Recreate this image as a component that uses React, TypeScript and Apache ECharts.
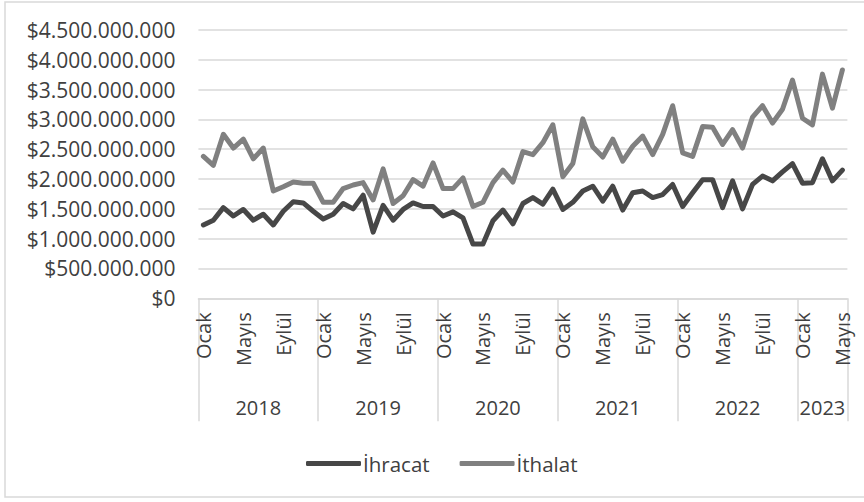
import React, { useEffect, useRef } from "react";
import * as echarts from "echarts";

// Month names shown on the axis (Ocak, Mayıs, Eylül every 4th month)
const monthNames = [
  "Ocak", "Şubat", "Mart", "Nisan", "Mayıs", "Haziran",
  "Temmuz", "Ağustos", "Eylül", "Ekim", "Kasım", "Aralık",
];
const years = ["2018", "2019", "2020", "2021", "2022", "2023"];
const monthsPerYear = [12, 12, 12, 12, 12, 5];

// Monthly exports (USD)
const ihracat = [
  1.23, 1.31, 1.52, 1.38, 1.49, 1.31, 1.41, 1.23, 1.46, 1.62, 1.60, 1.46,
  1.33, 1.41, 1.59, 1.50, 1.73, 1.11, 1.56, 1.31, 1.49, 1.60, 1.54, 1.54,
  1.38, 1.45, 1.35, 0.91, 0.91, 1.30, 1.48, 1.25, 1.59, 1.69, 1.58, 1.83,
  1.49, 1.61, 1.80, 1.88, 1.63, 1.88, 1.48, 1.77, 1.80, 1.69, 1.74, 1.91,
  1.54, 1.77, 1.99, 1.99, 1.52, 1.97, 1.50, 1.91, 2.05, 1.97, 2.12, 2.26,
  1.93, 1.94, 2.34, 1.97, 2.15,
].map((v) => Math.round(v * 1e9));

// Monthly imports (USD)
const ithalat = [
  2.38, 2.23, 2.75, 2.52, 2.67, 2.34, 2.52, 1.80, 1.87, 1.95, 1.93, 1.93,
  1.61, 1.61, 1.84, 1.90, 1.94, 1.65, 2.17, 1.59, 1.72, 1.99, 1.88, 2.27,
  1.84, 1.84, 2.02, 1.54, 1.61, 1.94, 2.15, 1.95, 2.46, 2.41, 2.61, 2.91,
  2.04, 2.26, 3.01, 2.54, 2.37, 2.67, 2.30, 2.55, 2.72, 2.41, 2.75, 3.23,
  2.44, 2.38, 2.88, 2.87, 2.58, 2.83, 2.52, 3.04, 3.23, 2.94, 3.17, 3.66,
  3.02, 2.91, 3.76, 3.19, 3.83,
].map((v) => Math.round(v * 1e9));

const FONT = "Open Sans";
const TEXT = "#404040";
const GRID = "#d9d9d9";

function formatMoney(v: number): string {
  return "$" + Math.round(v).toString().replace(/\B(?=(\d{3})+(?!\d))/g, ".");
}

export default function App() {
  const ref = useRef<HTMLDivElement>(null);

  useEffect(() => {
    if (!ref.current) return;
    const chart = echarts.init(ref.current, null, { renderer: "svg" });

    const categories: string[] = [];
    monthsPerYear.forEach((n, yi) => {
      for (let m = 0; m < n; m++) categories.push(`${monthNames[m]} ${years[yi]}`);
    });

    // year boundaries and year centres along the month index scale
    const bounds: number[] = [0];
    monthsPerYear.forEach((n) => bounds.push(bounds[bounds.length - 1] + n));
    const mids = years.map((_, i) => (bounds[i] + bounds[i + 1]) / 2);
    const total = bounds[bounds.length - 1];

    chart.setOption({
      animation: false,
      backgroundColor: "#ffffff",
      textStyle: { fontFamily: FONT },
      grid: { left: 198.4, right: 16.6, top: 30, bottom: 203.7, containLabel: false },
      graphic: [
        {
          type: "rect",
          shape: { x: 5, y: 2, width: 880, height: 495 },
          style: { fill: "none", stroke: GRID, lineWidth: 1.5 },
          silent: true,
          z: -1,
        },
      ],
      xAxis: [
        {
          type: "category",
          data: categories,
          boundaryGap: true,
          axisLine: { show: true, lineStyle: { color: GRID, width: 1.5 } },
          axisTick: { show: false },
          splitLine: { show: false },
          axisLabel: {
            interval: 3,
            rotate: 90,
            margin: 14,
            fontSize: 20,
            fontFamily: FONT,
            color: TEXT,
            formatter: (v: string) => v.split(" ")[0],
          },
        },
        {
          type: "value",
          min: 0,
          max: total,
          position: "bottom",
          axisLine: { show: false },
          splitLine: { show: false },
          axisTick: {
            show: true,
            customValues: bounds,
            length: 123,
            lineStyle: { color: GRID, width: 1.5 },
          },
          axisLabel: {
            show: true,
            customValues: mids,
            margin: 99,
            fontSize: 20,
            fontFamily: FONT,
            color: TEXT,
            formatter: (v: number) => {
              const i = mids.findIndex((m) => Math.abs(m - v) < 1e-6);
              return i >= 0 ? years[i] : "";
            },
          },
        },
      ],
      yAxis: {
        type: "value",
        min: 0,
        max: 4500000000,
        interval: 500000000,
        axisLine: { show: false },
        axisTick: { show: false },
        splitLine: { lineStyle: { color: GRID, width: 1.5 } },
        axisLabel: {
          margin: 23,
          fontSize: 21,
          fontFamily: FONT,
          color: TEXT,
          formatter: (v: number) => formatMoney(v),
        },
      },
      legend: {
        left: 301,
        top: 448,
        itemWidth: 55,
        itemHeight: 5,
        itemGap: 30,
        icon: "roundRect",
        textStyle: { fontSize: 20.5, fontFamily: FONT, color: TEXT, padding: [0, 0, 0, -3] },
        data: ["İhracat", "İthalat"],
      },
      series: [
        {
          name: "İhracat",
          type: "line",
          data: ihracat,
          symbol: "none",
          color: "#474747",
          lineStyle: { width: 5, color: "#474747", join: "round", cap: "round" },
          z: 3,
        },
        {
          name: "İthalat",
          type: "line",
          data: ithalat,
          symbol: "none",
          color: "#808080",
          lineStyle: { width: 5, color: "#808080", join: "round", cap: "round" },
          z: 2,
        },
      ],
    });

    return () => chart.dispose();
  }, []);

  return (
    <div
      ref={ref}
      style={{ position: "fixed", left: 0, top: 0, width: 864, height: 502, background: "#fff" }}
    />
  );
}
